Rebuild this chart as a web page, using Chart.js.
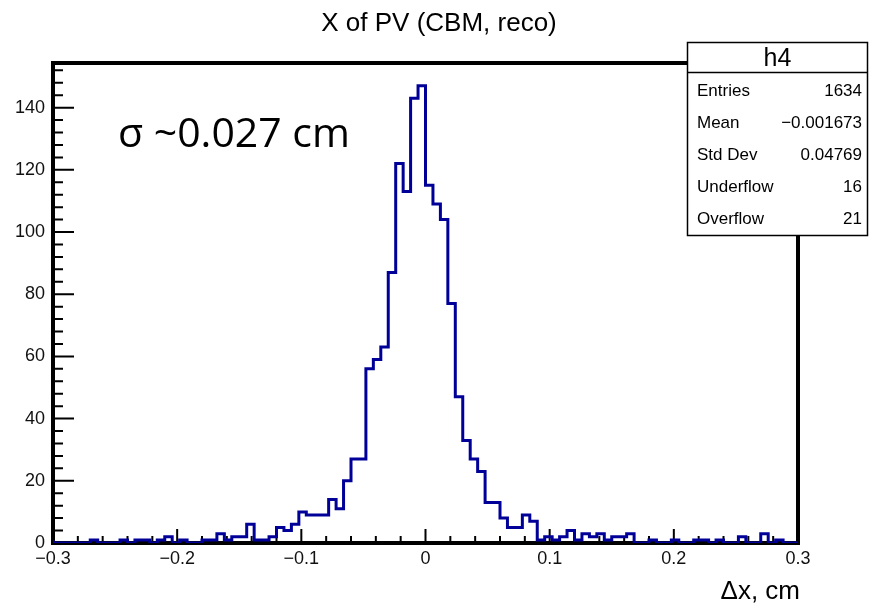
<!DOCTYPE html>
<html>
<head>
  <title>X of PV (CBM, reco)</title>
  <script src="https://cdn.jsdelivr.net/npm/chart.js"></script>
  <style>
    body { margin: 0; background: #fff; }
  </style>
</head>
<body>
  <canvas id="myChart" width="873" height="605"></canvas>

  <script type="text/javascript">
    // histogram h4 : 100 bins from -0.3 to 0.3
    var xMin = -0.3;
    var xMax = 0.3;
    var counts = [
      1, 0, 0, 0, 0, 0, 1, 0, 0, 0,
      1, 0, 1, 1, 0, 1, 2, 0, 1, 0,
      0, 1, 1, 3, 1, 2, 2, 6, 1, 1,
      2, 5, 4, 6, 10, 9, 9, 9, 14, 11,
      20, 27, 27, 56, 59, 63, 87, 122, 113, 143,
      147, 115, 109, 104, 77, 47, 33, 27, 23, 13,
      13, 8, 5, 5, 9, 7, 1, 2, 1, 2,
      4, 1, 3, 2, 3, 1, 2, 2, 3, 0,
      0, 1, 0, 0, 1, 0, 0, 1, 1, 0,
      1, 0, 0, 2, 0, 0, 3, 0, 1, 0
    ];
    var xTickValues = [-0.3, -0.2, -0.1, 0, 0.1, 0.2, 0.3];
    var yTickValues = [0, 20, 40, 60, 80, 100, 120, 140];

    var titleText = 'X of PV (CBM, reco)';
    var sigmaText = 'σ ~0.027 cm';
    var xAxisLabel = 'Δx, cm';
    var histName = 'h4';
    var statLabels = ['Entries', 'Mean', 'Std Dev', 'Underflow', 'Overflow'];
    var statValues = ['1634', '\u22120.001673', '0.04769', '16', '21'];

    var binWidth = (xMax - xMin) / counts.length;
    var steps = counts.map(function (c, i) {
      return { x: xMin + i * binWidth, y: c };
    });
    steps.push({ x: xMax, y: counts[counts.length - 1] });

    var yTop = 1.05 * Math.max.apply(null, counts);

    function fmtTick(v) {
      var s = Math.abs(v) < 1e-9 ? '0' : v.toFixed(1);
      return s.replace('-', '\u2212');
    }

    // ROOT style frame + inner ticks, drawn under the histogram line
    var rootFrame = {
      id: 'rootFrame',
      beforeDatasetsDraw: function (chart) {
        var ctx = chart.ctx;
        var a = chart.chartArea;
        var xs = chart.scales.x;
        var ys = chart.scales.y;
        ctx.save();
        ctx.strokeStyle = '#000';
        ctx.lineWidth = 2;
        ctx.beginPath();
        for (var v = 0; v <= yTop; v += 4) {
          var py = ys.getPixelForValue(v);
          var len = (v % 20 === 0) ? 21 : 10;
          ctx.moveTo(a.left, py);
          ctx.lineTo(a.left + len, py);
        }
        for (var k = -15; k <= 15; k++) {
          var px = xs.getPixelForValue(k * 0.02);
          var l2 = (k % 5 === 0) ? 14 : 7;
          ctx.moveTo(px, a.bottom);
          ctx.lineTo(px, a.bottom - l2);
        }
        ctx.stroke();
        ctx.lineWidth = 4;
        ctx.strokeRect(a.left, a.top, a.right - a.left, a.bottom - a.top);
        ctx.restore();
      },
      afterDraw: function (chart) {
        var ctx = chart.ctx;
        var a = chart.chartArea;
        ctx.save();
        ctx.fillStyle = '#000';
        ctx.textBaseline = 'alphabetic';

        ctx.font = '26px "Liberation Sans"';
        ctx.textAlign = 'center';
        ctx.fillText(titleText, 439, 31);

        ctx.font = '41px "Open Sans"';
        ctx.textAlign = 'left';
        ctx.fillText(sigmaText, 118, 147);

        ctx.font = '26px "Liberation Sans"';
        ctx.textAlign = 'right';
        ctx.fillText(xAxisLabel, a.right + 2, 599);

        // stats box
        var bx = 687.5, by = 42.5, bw = 180, bh = 193;
        ctx.fillStyle = '#fff';
        ctx.fillRect(bx, by, bw, bh);
        ctx.lineWidth = 1.5;
        ctx.strokeStyle = '#000';
        ctx.strokeRect(bx, by, bw, bh);
        ctx.beginPath();
        ctx.moveTo(bx, 72.5);
        ctx.lineTo(bx + bw, 72.5);
        ctx.stroke();

        ctx.fillStyle = '#000';
        ctx.font = '25px "Liberation Sans"';
        ctx.textAlign = 'center';
        ctx.fillText(histName, bx + bw / 2, 66);

        ctx.font = '17px "Liberation Sans"';
        statLabels.forEach(function (lab, i) {
          var yb = 96 + i * 32;
          ctx.textAlign = 'left';
          ctx.fillText(lab, 697, yb);
          ctx.textAlign = 'right';
          ctx.fillText(statValues[i], 862, yb);
        });

        ctx.restore();
      }
    };

    const ctx = document.getElementById('myChart').getContext('2d');

    new Chart(ctx, {
      type: 'line',
      data: {
        datasets: [{
          label: histName,
          data: steps,
          stepped: 'after',
          borderColor: '#000099',
          borderWidth: 3,
          pointRadius: 0,
          fill: false
        }]
      },
      options: {
        responsive: false,
        animation: false,
        devicePixelRatio: 1,
        layout: { padding: { left: 0, right: 75, top: 63, bottom: 0 } },
        plugins: {
          legend: { display: false },
          tooltip: { enabled: false },
          title: { display: false }
        },
        scales: {
          x: {
            type: 'linear',
            min: xMin,
            max: xMax,
            grid: { display: false, drawTicks: false },
            border: { display: false },
            afterBuildTicks: function (s) {
              s.ticks = xTickValues.map(function (v) { return { value: v }; });
            },
            afterFit: function (s) { s.height = 62; },
            ticks: {
              padding: 5,
              maxRotation: 0,
              autoSkip: false,
              color: '#111',
              font: { family: 'Liberation Sans', size: 18 },
              callback: function (v) { return fmtTick(v); }
            }
          },
          y: {
            min: 0,
            max: yTop,
            grid: { display: false, drawTicks: false },
            border: { display: false },
            afterBuildTicks: function (s) {
              s.ticks = yTickValues.map(function (v) { return { value: v }; });
            },
            afterFit: function (s) { s.width = 53; },
            ticks: {
              padding: 8,
              autoSkip: false,
              color: '#111',
              font: { family: 'Liberation Sans', size: 18 }
            }
          }
        }
      },
      plugins: [rootFrame]
    });
  </script>
</body>
</html>
